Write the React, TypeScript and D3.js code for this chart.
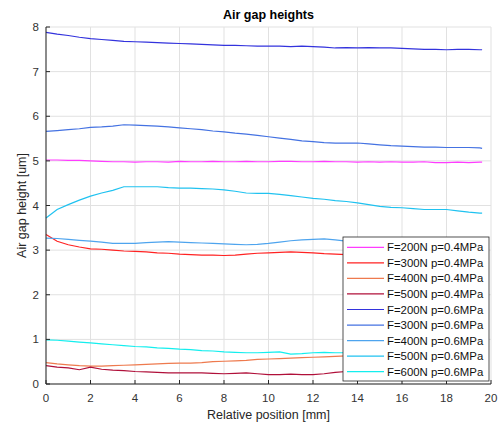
import React from 'react';
import * as d3 from 'd3';

// sample positions [mm]
const positions = [0, 0.5, 1, 1.5, 2, 2.5, 3, 3.5, 4, 4.5, 5, 5.5, 6, 6.5, 7, 7.5, 8, 8.5, 9, 9.5,
  10, 10.5, 11, 11.5, 12, 12.5, 13, 13.5, 14, 14.5, 15, 15.5, 16, 16.5, 17, 17.5, 18, 18.5, 19, 19.5, 19.6];

const f200p04 = [5.02, 5.02, 5.01, 5.01, 5.0, 4.99, 4.98, 4.98, 4.97, 4.98, 4.98, 4.97, 4.99, 4.98, 4.98, 4.99, 4.98, 4.98, 4.99, 4.98,
  4.98, 4.99, 4.99, 4.98, 4.98, 4.99, 4.98, 4.98, 4.97, 4.98, 4.97, 4.98, 4.97, 4.97, 4.98, 4.96, 4.96, 4.97, 4.96, 4.97, 4.97];
const f300p04 = [3.35, 3.2, 3.12, 3.07, 3.03, 3.02, 3.0, 2.98, 2.97, 2.96, 2.94, 2.93, 2.91, 2.9, 2.89, 2.89, 2.88, 2.89, 2.91, 2.93,
  2.94, 2.95, 2.96, 2.95, 2.94, 2.92, 2.91, 2.9, 2.9, 2.89, 2.89, 2.88, 2.88, 2.87, 2.87, 2.87, 2.86, 2.86, 2.86, 2.85, 2.85];
const f400p04 = [0.48, 0.45, 0.43, 0.41, 0.4, 0.4, 0.41, 0.42, 0.43, 0.44, 0.45, 0.46, 0.47, 0.47, 0.48, 0.5, 0.51, 0.52, 0.53, 0.55,
  0.56, 0.57, 0.58, 0.59, 0.6, 0.61, 0.62, 0.63, 0.64, 0.64, 0.65, 0.66, 0.66, 0.67, 0.67, 0.68, 0.68, 0.69, 0.69, 0.7, 0.7];
const f500p04 = [0.41, 0.38, 0.36, 0.32, 0.38, 0.33, 0.31, 0.3, 0.28, 0.27, 0.26, 0.25, 0.25, 0.25, 0.25, 0.24, 0.23, 0.24, 0.25, 0.23,
  0.21, 0.21, 0.22, 0.21, 0.21, 0.23, 0.26, 0.28, 0.29, 0.3, 0.3, 0.31, 0.31, 0.31, 0.32, 0.32, 0.32, 0.33, 0.33, 0.33, 0.33];
const f200p06 = [7.88, 7.84, 7.81, 7.77, 7.74, 7.72, 7.7, 7.68, 7.67, 7.66, 7.65, 7.64, 7.63, 7.62, 7.61, 7.6, 7.59, 7.59, 7.58, 7.57,
  7.57, 7.57, 7.56, 7.57, 7.56, 7.55, 7.53, 7.54, 7.53, 7.54, 7.53, 7.53, 7.52, 7.51, 7.5, 7.5, 7.49, 7.5, 7.5, 7.49, 7.49];
const f300p06 = [5.66, 5.68, 5.7, 5.72, 5.75, 5.76, 5.78, 5.81, 5.8, 5.79, 5.78, 5.76, 5.74, 5.72, 5.7, 5.67, 5.65, 5.62, 5.6, 5.57,
  5.54, 5.51, 5.48, 5.45, 5.43, 5.41, 5.4, 5.4, 5.4, 5.38, 5.36, 5.34, 5.33, 5.32, 5.31, 5.31, 5.3, 5.3, 5.3, 5.29, 5.28];
const f400p06 = [3.27, 3.26, 3.24, 3.22, 3.2, 3.18, 3.15, 3.15, 3.15, 3.17, 3.18, 3.19, 3.18, 3.17, 3.16, 3.15, 3.14, 3.13, 3.12, 3.13,
  3.15, 3.18, 3.21, 3.23, 3.24, 3.25, 3.23, 3.2, 3.19, 3.18, 3.18, 3.17, 3.17, 3.16, 3.16, 3.15, 3.15, 3.15, 3.14, 3.14, 3.14];
const f500p06 = [3.72, 3.91, 4.02, 4.12, 4.21, 4.28, 4.34, 4.42, 4.42, 4.42, 4.42, 4.4, 4.39, 4.39, 4.38, 4.37, 4.35, 4.32, 4.28, 4.27,
  4.27, 4.25, 4.22, 4.19, 4.16, 4.14, 4.11, 4.09, 4.06, 4.02, 3.98, 3.96, 3.95, 3.93, 3.91, 3.91, 3.91, 3.88, 3.85, 3.83, 3.83];
const f600p06 = [0.99, 0.98, 0.96, 0.94, 0.92, 0.9, 0.88, 0.86, 0.84, 0.83, 0.81, 0.8, 0.78, 0.77, 0.75, 0.74, 0.72, 0.71, 0.7, 0.7,
  0.71, 0.72, 0.67, 0.68, 0.7, 0.71, 0.7, 0.7, 0.7, 0.69, 0.69, 0.68, 0.68, 0.68, 0.67, 0.67, 0.67, 0.66, 0.66, 0.66, 0.66];

const seriesNames = ['F=200N p=0.4MPa', 'F=300N p=0.4MPa', 'F=400N p=0.4MPa', 'F=500N p=0.4MPa',
  'F=200N p=0.6MPa', 'F=300N p=0.6MPa', 'F=400N p=0.6MPa', 'F=500N p=0.6MPa', 'F=600N p=0.6MPa'];
const seriesValues = [f200p04, f300p04, f400p04, f500p04, f200p06, f300p06, f400p06, f500p06, f600p06];
const seriesColors = ['#ff3cff', '#ff2222', '#ee7a4e', '#b0103a', '#3333dd', '#4472e2', '#4ea4ee', '#20c2f0', '#14eeee'];

const xTicks = [0, 2, 4, 6, 8, 10, 12, 14, 16, 18, 20];
const yTicks = [0, 1, 2, 3, 4, 5, 6, 7, 8];

const W = 502, H = 425;
const left = 46, right = 491, top = 27, bottom = 384;
const font = 'Liberation Sans, Arial, Helvetica, sans-serif';

const App = () => {
  const x = d3.scaleLinear().domain([0, 20]).range([left, right]);
  const y = d3.scaleLinear().domain([0, 8]).range([bottom, top]);
  const line = d3.line<number>()
    .x((d, i) => x(positions[i]))
    .y(d => y(d));

  // legend placement
  const lgX = 343, lgY = 237, lgW = 146, lgH = 144, rowH = 15.55;

  return (
    <svg width={W} height={H} style={{position: 'absolute', left: 0, top: 0}} fontFamily={font}>
      <rect width={W} height={H} fill="#fff"/>
      {/* grid */}
      {xTicks.map(t => (
        <line key={'gx' + t} x1={x(t)} x2={x(t)} y1={top} y2={bottom} stroke="#e1e1e1" strokeWidth={1}/>
      ))}
      {yTicks.map(t => (
        <line key={'gy' + t} x1={left} x2={right} y1={y(t)} y2={y(t)} stroke="#e1e1e1" strokeWidth={1}/>
      ))}
      {/* series */}
      {seriesValues.map((vals, i) => (
        <path key={seriesNames[i]} d={line(vals) || ''} fill="none" stroke={seriesColors[i]} strokeWidth={1.2}/>
      ))}
      {/* axes */}
      <line x1={left} x2={left} y1={top} y2={bottom} stroke="#262626" strokeWidth={1}/>
      <line x1={left} x2={right} y1={bottom} y2={bottom} stroke="#262626" strokeWidth={1}/>
      {xTicks.map(t => (
        <g key={'tx' + t}>
          <line x1={x(t)} x2={x(t)} y1={bottom} y2={bottom - 4} stroke="#262626"/>
          <text x={x(t)} y={bottom + 18} textAnchor="middle" fontSize={11.5} fill="#333">{t}</text>
        </g>
      ))}
      {yTicks.map(t => (
        <g key={'ty' + t}>
          <line x1={left} x2={left + 4} y1={y(t)} y2={y(t)} stroke="#262626"/>
          <text x={left - 7} y={y(t) + 4} textAnchor="end" fontSize={11.5} fill="#333">{t}</text>
        </g>
      ))}
      {/* legend */}
      <rect x={lgX} y={lgY} width={lgW} height={lgH} fill="#fff" stroke="#262626" strokeWidth={0.8}/>
      {seriesNames.map((name, i) => {
        const cy = lgY + 10.3 + i * rowH;
        return (
          <g key={'lg' + i}>
            <line x1={lgX + 4} x2={lgX + 41} y1={cy} y2={cy} stroke={seriesColors[i]} strokeWidth={1.2}/>
            <text x={lgX + 44} y={cy + 4} fontSize={11.4} fill="#111">{name}</text>
          </g>
        );
      })}
      {/* labels */}
      <text x={(left + right) / 2} y={19} textAnchor="middle" fontSize={12.5} fontWeight="bold" fill="#000">Air gap heights</text>
      <text x={(left + right) / 2} y={419} textAnchor="middle" fontSize={12.5} fill="#262626">Relative position [mm]</text>
      <text transform={`translate(26,${(top + bottom) / 2}) rotate(-90)`} textAnchor="middle" fontSize={12.5} fill="#262626">Air gap height [um]</text>
    </svg>
  );
};

export default App;
